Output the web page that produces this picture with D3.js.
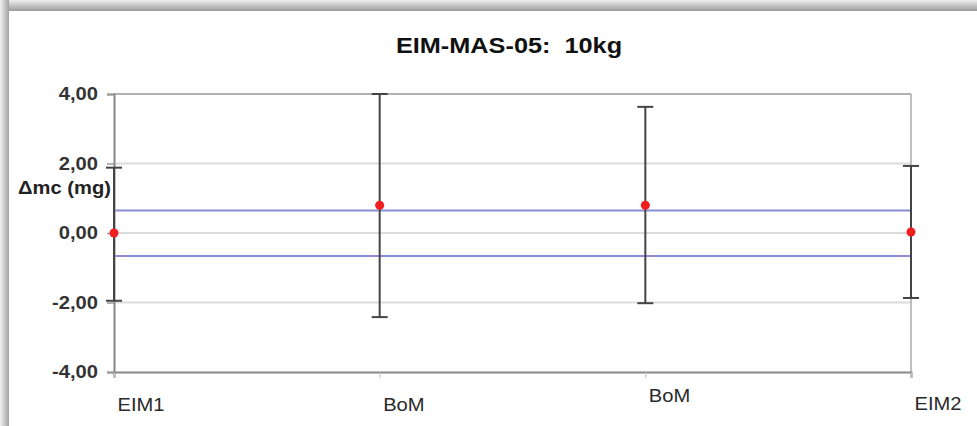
<!DOCTYPE html>
<html>
<head>
<meta charset="utf-8">
<title>EIM-MAS-05: 10kg</title>
<style>
  body { margin: 0; background: #fff; }
  svg { display: block; font-family: "Liberation Sans", Arial, sans-serif; }
</style>
<script src="https://d3js.org/d3.v7.min.js"></script>
</head>
<body>
<svg id="chart" width="977" height="426"></svg>
<script>
// data
var categories = ["EIM1", "BoM", "BoM", "EIM2"];
var values = [0.00, 0.80, 0.80, 0.03];
var errLow = [-1.95, -2.42, -2.02, -1.87];
var errHigh = [1.88, 4.00, 3.63, 1.93];
var limits = [0.65, -0.66];
var yTicks = [-4, -2, 0, 2, 4];
var title = "EIM-MAS-05:  10kg";
var yLabel = "Δmc (mg)";

var svg = d3.select("#chart");
var W = 977, H = 426;
var plotL = 114, plotR = 911, plotT = 94, plotB = 372;
var sx = 1.12; // text in the picture is a bit wide

// frame shadow
var defs = svg.append("defs");
var gTop = defs.append("linearGradient").attr("id", "shTop")
  .attr("x1", 0).attr("y1", 0).attr("x2", 0).attr("y2", 1);
gTop.append("stop").attr("offset", "0%").attr("stop-color", "#eeeeee");
gTop.append("stop").attr("offset", "100%").attr("stop-color", "#9a9a9a");
var gLeft = defs.append("linearGradient").attr("id", "shLeft")
  .attr("x1", 0).attr("y1", 0).attr("x2", 1).attr("y2", 0);
gLeft.append("stop").attr("offset", "0%").attr("stop-color", "#f2f2f2");
gLeft.append("stop").attr("offset", "100%").attr("stop-color", "#a0a0a0");

svg.append("rect").attr("width", W).attr("height", H).attr("fill", "#fff");
svg.append("rect").attr("x", 0).attr("y", 0).attr("width", W).attr("height", 11).attr("fill", "url(#shTop)");
svg.append("rect").attr("x", 0).attr("y", 0).attr("width", 9).attr("height", H).attr("fill", "url(#shLeft)");
svg.append("rect").attr("x", 9).attr("y", 11).attr("width", W - 9).attr("height", H - 11).attr("fill", "#fff");

var x = d3.scalePoint().domain(d3.range(categories.length)).range([plotL, plotR]).padding(0);
var y = d3.scaleLinear().domain([-4, 4]).range([plotB, plotT]);
var fmt = function (d) { return d3.format(".2f")(d).replace(".", ",").replace("\u2212", "-"); };

// gridlines
svg.append("g").selectAll("line").data(yTicks.filter(function (d) { return d > -4 && d < 4; }))
  .join("line")
  .attr("x1", plotL).attr("x2", plotR)
  .attr("y1", function (d) { return y(d); }).attr("y2", function (d) { return y(d); })
  .attr("stroke", "#dcdcdc").attr("stroke-width", 2);

// plot border
svg.append("line").attr("x1", plotL).attr("x2", plotR).attr("y1", y(4)).attr("y2", y(4))
  .attr("stroke", "#999").attr("stroke-width", 1.5);
svg.append("line").attr("x1", plotR).attr("x2", plotR).attr("y1", y(4)).attr("y2", y(-4))
  .attr("stroke", "#aaa").attr("stroke-width", 1.5);

// y axis
var yAxis = svg.append("g").attr("transform", "translate(" + plotL + ",0)")
  .call(d3.axisLeft(y).tickValues(yTicks).tickFormat(fmt).tickSize(7).tickPadding(9));
yAxis.select(".domain").attr("stroke", "#888").attr("stroke-width", 2);
yAxis.selectAll(".tick line").attr("stroke", "#999").attr("stroke-width", 1.5);
yAxis.selectAll(".tick text")
  .attr("font-size", 18).attr("font-weight", "bold").attr("fill", "#333")
  .attr("font-family", "Liberation Sans, Arial, sans-serif")
  .each(function () {
    var t = d3.select(this);
    var tx = +t.attr("x");
    t.attr("x", null).attr("transform", "translate(" + tx + ",0) scale(" + sx + ",1)");
  });

// x axis
var xAxis = svg.append("g").attr("transform", "translate(0," + plotB + ")")
  .call(d3.axisBottom(x).tickFormat(function (i) { return categories[i]; }).tickSize(6));
xAxis.select(".domain").attr("stroke", "#888").attr("stroke-width", 2);
xAxis.selectAll(".tick line").attr("stroke", "#bbb").attr("stroke-width", 1);
var labelShift = [0, 0, -9, -1];
xAxis.selectAll(".tick text")
  .attr("font-size", 18).attr("fill", "#2a2a2a")
  .attr("font-family", "Liberation Sans, Arial, sans-serif")
  .attr("text-anchor", "start").attr("y", null).attr("dy", null)
  .attr("transform", function (i) { return "translate(3," + (39 + labelShift[i]) + ") scale(" + sx + ",1)"; });

// limit lines
svg.append("g").selectAll("line").data(limits).join("line")
  .attr("x1", plotL).attr("x2", plotR)
  .attr("y1", function (d) { return y(d); }).attr("y2", function (d) { return y(d); })
  .attr("stroke", "#8a8ed0").attr("stroke-width", 2);

// error bars
var eb = svg.append("g").attr("stroke", "#444").attr("stroke-width", 2);
eb.selectAll(".v").data(values).join("line").attr("class", "v")
  .attr("x1", function (d, i) { return x(i); }).attr("x2", function (d, i) { return x(i); })
  .attr("y1", function (d, i) { return y(errLow[i]); }).attr("y2", function (d, i) { return y(errHigh[i]); });
eb.selectAll(".hi").data(values).join("line").attr("class", "hi")
  .attr("x1", function (d, i) { return x(i) - 8; }).attr("x2", function (d, i) { return x(i) + 8; })
  .attr("y1", function (d, i) { return y(errHigh[i]); }).attr("y2", function (d, i) { return y(errHigh[i]); });
eb.selectAll(".lo").data(values).join("line").attr("class", "lo")
  .attr("x1", function (d, i) { return x(i) - 8; }).attr("x2", function (d, i) { return x(i) + 8; })
  .attr("y1", function (d, i) { return y(errLow[i]); }).attr("y2", function (d, i) { return y(errLow[i]); });

// points
svg.append("g").selectAll("circle").data(values).join("circle")
  .attr("cx", function (d, i) { return x(i); }).attr("cy", function (d) { return y(d); })
  .attr("r", 4.5).attr("fill", "#f01e1e");

// y label
svg.append("text").attr("transform", "translate(111,194) scale(" + sx + ",1)")
  .attr("text-anchor", "end").attr("font-size", 18).attr("font-weight", "bold").attr("fill", "#222")
  .text(yLabel);

// title
svg.append("text").attr("transform", "translate(509,53) scale(1.15,1)")
  .attr("text-anchor", "middle").attr("font-size", 22).attr("font-weight", "bold").attr("fill", "#111")
  .style("white-space", "pre")
  .text(title);
</script>
</body>
</html>
